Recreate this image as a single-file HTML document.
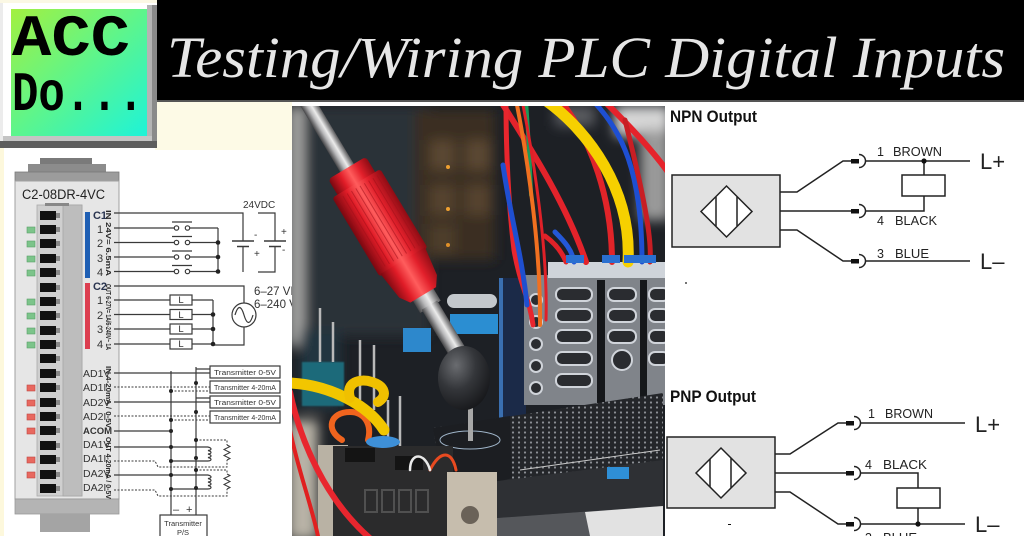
<!DOCTYPE html>
<html><head><meta charset="utf-8">
<style>
html,body{margin:0;padding:0;background:#fff;}
body{width:1024px;height:536px;overflow:hidden;position:relative;}
svg{position:absolute;left:0;top:0;display:block;}
</style></head><body>
<svg width="1024" height="536" viewBox="0 0 1024 536" xmlns="http://www.w3.org/2000/svg" font-family="'Liberation Sans', sans-serif">
<defs>
 <linearGradient id="scr" x1="0" y1="0" x2="1" y2="1">
  <stop offset="0" stop-color="#a2f040"/>
  <stop offset="0.5" stop-color="#5df58c"/>
  <stop offset="1" stop-color="#1ef3d8"/>
 </linearGradient>
 <linearGradient id="redg" x1="0" y1="0" x2="0" y2="1">
  <stop offset="0" stop-color="#8e0c14"/>
  <stop offset="0.28" stop-color="#e2202b"/>
  <stop offset="0.5" stop-color="#ff5d5d"/>
  <stop offset="0.72" stop-color="#e01c27"/>
  <stop offset="1" stop-color="#7a0810"/>
 </linearGradient>
 <linearGradient id="silv" x1="0" y1="0" x2="0" y2="1">
  <stop offset="0" stop-color="#5a5a5c"/>
  <stop offset="0.4" stop-color="#ececec"/>
  <stop offset="0.65" stop-color="#b8b8ba"/>
  <stop offset="1" stop-color="#444446"/>
 </linearGradient>
 <radialGradient id="ball" cx="0.35" cy="0.3" r="0.75">
  <stop offset="0" stop-color="#6a6c70"/>
  <stop offset="0.5" stop-color="#34363a"/>
  <stop offset="1" stop-color="#17181b"/>
 </radialGradient>
 <pattern id="pd" width="6" height="5" patternUnits="userSpaceOnUse">
  <rect width="6" height="5" fill="#24262a"/>
  <circle cx="3" cy="2.5" r="1.1" fill="#8c9096"/>
 </pattern>
 <clipPath id="ph"><rect x="292" y="106" width="373" height="430"/></clipPath>
 <filter id="b6" x="-20%" y="-20%" width="140%" height="140%"><feGaussianBlur stdDeviation="6"/></filter>
 <filter id="b1"><feGaussianBlur stdDeviation="0.8"/></filter>
</defs>

<!-- backgrounds -->
<rect x="0" y="0" width="1024" height="536" fill="#ffffff"/>
<rect x="0" y="148" width="4" height="388" fill="#fdf8dc"/>
<rect x="155" y="101" width="137" height="49" fill="#fdfae6"/>

<!-- LOGO -->
<rect x="0" y="0" width="157" height="148" fill="#ffffff"/>
<rect x="0" y="0" width="157" height="3" fill="#fbf8e4"/>
<rect x="0" y="3" width="3" height="140" fill="#ececec"/>
<rect x="147" y="5" width="5" height="135" fill="#b4b4b4"/>
<rect x="152" y="5" width="5" height="140" fill="#8a8a8a"/>
<rect x="3" y="136" width="149" height="5" fill="#c4c4c4"/>
<rect x="0" y="141" width="157" height="7" fill="#5e5e5e"/>
<rect x="11" y="9" width="136" height="127" fill="url(#scr)"/>
<text x="12" y="55" font-family="'Liberation Mono', monospace" font-weight="bold" font-size="58" fill="#000" textLength="118" lengthAdjust="spacingAndGlyphs">ACC</text>
<text x="12" y="110" font-family="'Liberation Mono', monospace" font-weight="bold" font-size="56" fill="#000" textLength="132" lengthAdjust="spacingAndGlyphs">Do...</text>

<!-- TITLE BANNER -->
<rect x="157" y="0" width="867" height="101" fill="#000"/>
<rect x="157" y="100" width="867" height="2" fill="#555"/>
<text x="167" y="77" font-family="'Liberation Serif', serif" font-style="italic" font-size="58" fill="#e6e6e6" textLength="838" lengthAdjust="spacingAndGlyphs">Testing/Wiring PLC Digital Inputs</text>

<!-- PLC MODULE -->
<g>
 <rect x="40" y="158" width="52" height="6" fill="#7a7a7a"/>
 <rect x="28" y="164" width="78" height="8" fill="#8c8c8c"/>
 <rect x="15" y="172" width="104" height="9" fill="#9c9c9c" stroke="#7a7a7a" stroke-width="0.8"/>
 <rect x="15" y="181" width="104" height="318" fill="#e6e6e6" stroke="#a0a0a0" stroke-width="1"/>
 <rect x="15" y="499" width="104" height="15" fill="#b4b4b4" stroke="#999" stroke-width="0.8"/>
 <rect x="40" y="514" width="50" height="18" fill="#a4a4a4"/>
 <text x="22" y="199" font-size="13.5" fill="#222" textLength="83" lengthAdjust="spacingAndGlyphs">C2-08DR-4VC</text>
 <!-- terminal column -->
 <rect x="37" y="205" width="45" height="291" fill="#cfcfcf" stroke="#aaa" stroke-width="0.8"/>
 <rect x="63" y="205" width="19" height="291" fill="#bdbdbd" stroke="#a5a5a5" stroke-width="0.8"/>
 <rect x="45" y="203" width="24" height="3" fill="#888"/>
 <g fill="#111">
  <rect x="40" y="211" width="16" height="9"/><rect x="40" y="225" width="16" height="9"/>
  <rect x="40" y="239" width="16" height="9"/><rect x="40" y="254" width="16" height="9"/>
  <rect x="40" y="268" width="16" height="9"/><rect x="40" y="283" width="16" height="9"/>
  <rect x="40" y="297" width="16" height="9"/><rect x="40" y="311" width="16" height="9"/>
  <rect x="40" y="326" width="16" height="9"/><rect x="40" y="340" width="16" height="9"/>
  <rect x="40" y="354" width="16" height="9"/><rect x="40" y="369" width="16" height="9"/>
  <rect x="40" y="383" width="16" height="9"/><rect x="40" y="398" width="16" height="9"/>
  <rect x="40" y="412" width="16" height="9"/><rect x="40" y="426" width="16" height="9"/>
  <rect x="40" y="441" width="16" height="9"/><rect x="40" y="455" width="16" height="9"/>
  <rect x="40" y="470" width="16" height="9"/><rect x="40" y="484" width="16" height="9"/>
 </g>
 <g fill="#888">
  <rect x="56" y="213" width="4" height="5"/><rect x="56" y="227" width="4" height="5"/>
  <rect x="56" y="241" width="4" height="5"/><rect x="56" y="256" width="4" height="5"/>
  <rect x="56" y="270" width="4" height="5"/><rect x="56" y="285" width="4" height="5"/>
  <rect x="56" y="299" width="4" height="5"/><rect x="56" y="313" width="4" height="5"/>
  <rect x="56" y="328" width="4" height="5"/><rect x="56" y="342" width="4" height="5"/>
  <rect x="56" y="356" width="4" height="5"/><rect x="56" y="371" width="4" height="5"/>
  <rect x="56" y="385" width="4" height="5"/><rect x="56" y="400" width="4" height="5"/>
  <rect x="56" y="414" width="4" height="5"/><rect x="56" y="428" width="4" height="5"/>
  <rect x="56" y="443" width="4" height="5"/><rect x="56" y="457" width="4" height="5"/>
  <rect x="56" y="472" width="4" height="5"/><rect x="56" y="486" width="4" height="5"/>
 </g>
 <!-- LEDs -->
 <g fill="#7cc48a" stroke="#5aa06a" stroke-width="0.6">
  <rect x="27" y="227" width="8" height="6"/><rect x="27" y="241" width="8" height="6"/>
  <rect x="27" y="256" width="8" height="6"/><rect x="27" y="270" width="8" height="6"/>
  <rect x="27" y="299" width="8" height="6"/><rect x="27" y="313" width="8" height="6"/>
  <rect x="27" y="328" width="8" height="6"/><rect x="27" y="342" width="8" height="6"/>
 </g>
 <g fill="#e8685f" stroke="#c04a44" stroke-width="0.6">
  <rect x="27" y="385" width="8" height="6"/><rect x="27" y="400" width="8" height="6"/>
  <rect x="27" y="414" width="8" height="6"/><rect x="27" y="428" width="8" height="6"/>
  <rect x="27" y="457" width="8" height="6"/><rect x="27" y="472" width="8" height="6"/>
 </g>
 <rect x="85" y="212" width="5" height="66" fill="#1f5fb4"/>
 <rect x="85" y="283" width="5" height="66" fill="#dc3e50"/>
 <!-- row labels -->
 <g font-size="11" fill="#333" text-anchor="middle">
  <text x="100" y="219" font-weight="bold" fill="#2a3550">C1</text>
  <text x="100" y="233">1</text><text x="100" y="247">2</text>
  <text x="100" y="262">3</text><text x="100" y="276">4</text>
  <text x="100" y="290" font-weight="bold" fill="#2a3550">C2</text>
  <text x="100" y="304">1</text><text x="100" y="319">2</text>
  <text x="100" y="333">3</text><text x="100" y="348">4</text>
 </g>
 <g font-size="10.5" fill="#333">
  <text x="83" y="377">AD1V</text><text x="83" y="391">AD1I</text>
  <text x="83" y="406">AD2V</text><text x="83" y="420">AD2I</text>
  <text x="83" y="434" font-weight="bold" font-size="9.5">ACOM</text>
  <text x="83" y="448">DA1V</text><text x="83" y="462">DA1I</text>
  <text x="83" y="477">DA2V</text><text x="83" y="491">DA2I</text>
 </g>
 <g font-size="7.5" font-weight="bold" fill="#2a2a2a">
  <text transform="translate(106,210) rotate(90)" textLength="66" lengthAdjust="spacingAndGlyphs">IN 24V= 6.5mA</text>
  <text transform="translate(106,284) rotate(90)" textLength="66" lengthAdjust="spacingAndGlyphs">OUT 6-27V= 1A/6-240V~ 1A</text>
  <text transform="translate(106,366) rotate(90)" textLength="62" lengthAdjust="spacingAndGlyphs">IN 4-20mA / 0-5V</text>
  <text transform="translate(106,437) rotate(90)" textLength="62" lengthAdjust="spacingAndGlyphs">OUT 4-20mA / 0-5V</text>
 </g>
</g>

<!-- LEFT WIRING -->
<g stroke="#3a3a3a" stroke-width="1.2" fill="none">
 <!-- IN -->
 <path d="M114,213 H243 V241"/>
 <path d="M243,246 V272"/>
 <path d="M258,213 H275 V241 M275,246 V272 H258"/>
 <path d="M114,228 H174 M190,228 H218"/>
 <path d="M114,242.5 H174 M190,242.5 H218"/>
 <path d="M114,257 H174 M190,257 H218"/>
 <path d="M114,271.5 H174 M190,271.5 H218"/>
 <path d="M172,222 H192 M172,236.5 H192 M172,251 H192 M172,265.5 H192"/>
 <circle cx="176.5" cy="228" r="2.2"/><circle cx="187.5" cy="228" r="2.2"/>
 <circle cx="176.5" cy="242.5" r="2.2"/><circle cx="187.5" cy="242.5" r="2.2"/>
 <circle cx="176.5" cy="257" r="2.2"/><circle cx="187.5" cy="257" r="2.2"/>
 <circle cx="176.5" cy="271.5" r="2.2"/><circle cx="187.5" cy="271.5" r="2.2"/>
 <path d="M218,228 V271.5"/>
 <path d="M232,241 H254 M237,246.5 H249" stroke-width="1.5"/>
 <path d="M264,241 H286 M269,246.5 H281" stroke-width="1.5"/>
 <!-- OUT -->
 <path d="M114,286 H244 V303 M244,327 V345 H213"/>
 <circle cx="244" cy="315" r="12"/>
 <path d="M235,315 C238,305 241,305 244,315 C247,325 250,325 253,315"/>
 <path d="M114,300 H170 M192,300 H213"/>
 <path d="M114,314.5 H170 M192,314.5 H213"/>
 <path d="M114,329 H170 M192,329 H213"/>
 <path d="M114,344 H170 M192,344 H213"/>
 <rect x="170" y="295" width="22" height="10" fill="#fff"/>
 <rect x="170" y="309.5" width="22" height="10" fill="#fff"/>
 <rect x="170" y="324" width="22" height="10" fill="#fff"/>
 <rect x="170" y="339" width="22" height="10" fill="#fff"/>
 <path d="M213,300 V344"/>
 <!-- analog -->
 <path d="M114,373 H210"/>
 <path d="M114,402 H210"/>
 <path d="M114,431 H171"/>
 <path d="M171,371 V515 M196,367 V515"/>
 <path d="M196,369 H210 M196,398 H210"/>
 <path d="M114,447 H208 M208,461 H171"/>
 <path d="M114,475 H208 M208,489 H171"/>
 <path d="M208,447 c4,1 4,3 0,3.5 c4,1 4,3 0,3.5 c4,1 4,3 0,3.5 c4,1 4,3 0,3.5"/>
 <path d="M208,475 c4,1 4,3 0,3.5 c4,1 4,3 0,3.5 c4,1 4,3 0,3.5 c4,1 4,3 0,3.5"/>
 <g stroke-dasharray="2,1.5" stroke-width="1">
  <path d="M114,387 H210 M171,391 H210"/>
  <path d="M114,416 H210 M171,420 H210"/>
  <path d="M114,461 H155 L158,467 H227 V460"/>
  <path d="M196,440 H227 V445"/>
  <path d="M114,490 H155 L158,496 H227 V489"/>
  <path d="M196,470 H227 V474"/>
 </g>
 <path d="M227,445 l3,1.5 l-6,3 l6,3 l-6,3 l6,3 l-3,1.5" stroke-width="1"/>
 <path d="M227,474 l3,1.5 l-6,3 l6,3 l-6,3 l6,3 l-3,1.5" stroke-width="1"/>
 <rect x="210" y="366" width="70" height="12" fill="#fff"/>
 <rect x="210" y="381" width="70" height="12" fill="#fff"/>
 <rect x="210" y="396" width="70" height="12" fill="#fff"/>
 <rect x="210" y="411" width="70" height="12" fill="#fff"/>
 <rect x="160" y="515" width="47" height="30" fill="#fff"/>
</g>
<g fill="#222">
 <circle cx="218" cy="242.5" r="2.3"/><circle cx="218" cy="257" r="2.3"/><circle cx="218" cy="271.5" r="2.3"/>
 <circle cx="213" cy="314.5" r="2.3"/><circle cx="213" cy="329" r="2.3"/><circle cx="213" cy="344" r="2.3"/>
 <circle cx="171" cy="391" r="2"/><circle cx="196" cy="383" r="2"/>
 <circle cx="171" cy="420" r="2"/><circle cx="196" cy="412" r="2"/>
 <circle cx="171" cy="431" r="2"/><circle cx="171" cy="447" r="2"/><circle cx="196" cy="440" r="2"/>
 <circle cx="171" cy="461" r="2"/><circle cx="196" cy="458" r="2"/>
 <circle cx="171" cy="475" r="2"/><circle cx="196" cy="470" r="2"/>
 <circle cx="171" cy="489" r="2"/><circle cx="196" cy="488" r="2"/>
</g>
<g font-size="9" fill="#333" text-anchor="middle">
 <text x="181" y="303" font-size="9.5">L</text><text x="181" y="318" font-size="9.5">L</text>
 <text x="181" y="332" font-size="9.5">L</text><text x="181" y="347" font-size="9.5">L</text>
</g>
<g font-size="7.5" fill="#333">
 <text x="214" y="375" textLength="62" lengthAdjust="spacingAndGlyphs">Transmitter 0-5V</text>
 <text x="214" y="390" textLength="62" lengthAdjust="spacingAndGlyphs">Transmitter 4-20mA</text>
 <text x="214" y="405" textLength="62" lengthAdjust="spacingAndGlyphs">Transmitter 0-5V</text>
 <text x="214" y="420" textLength="62" lengthAdjust="spacingAndGlyphs">Transmitter 4-20mA</text>
 <text x="183" y="526" text-anchor="middle" font-size="7.5">Transmitter</text>
 <text x="183" y="535" text-anchor="middle" font-size="7.5">P/S</text>
</g>
<g font-size="11" fill="#333">
 <text x="173" y="513">–</text><text x="186" y="513">+</text>
 <text x="243" y="208" font-size="10">24VDC</text>
 <text x="254" y="238" font-size="10">-</text><text x="254" y="257" font-size="10">+</text>
 <text x="281" y="235" font-size="10">+</text><text x="282" y="253" font-size="10">-</text>
 <text x="254" y="295" font-size="11.5">6–27 VDC</text>
 <text x="254" y="308" font-size="11.5">6–240 VAC</text>
</g>

<!-- PHOTO -->
<g clip-path="url(#ph)">
 <rect x="292" y="106" width="373" height="430" fill="#1d2025"/>
 <g filter="url(#b6)">
  <rect x="300" y="106" width="130" height="230" fill="#2c3037"/>
  <rect x="288" y="106" width="16" height="240" fill="#a6a6a4"/>
  <rect x="415" y="110" width="80" height="150" fill="#3a2e24"/>
  <rect x="430" y="140" width="25" height="30" fill="#5a4631"/>
  <rect x="465" y="140" width="25" height="30" fill="#5a4631"/>
  <rect x="430" y="185" width="25" height="30" fill="#54422f"/>
  <rect x="465" y="185" width="25" height="30" fill="#54422f"/>
  <rect x="430" y="225" width="25" height="28" fill="#4d3c2b"/>
  <rect x="615" y="106" width="55" height="30" fill="#d6d6d6"/>
  <rect x="640" y="130" width="30" height="90" fill="#9a9a9a"/>
  <rect x="555" y="106" width="40" height="20" fill="#5a5c60"/>
  <rect x="288" y="420" width="30" height="120" fill="#b8b2a6"/>
  <rect x="300" y="330" width="40" height="80" fill="#22363f"/>
 </g>
 <circle cx="448" cy="167" r="2" fill="#f0a030"/>
 <circle cx="448" cy="209" r="2" fill="#f0a030"/>
 <circle cx="448" cy="245" r="2" fill="#e09028"/>
 <!-- teal component -->
 <rect x="302" y="362" width="42" height="44" fill="#1f6b7a" filter="url(#b1)"/>
 <!-- pins -->
 <g stroke="#b9b9b9" stroke-width="2.5">
  <line x1="320" y1="308" x2="320" y2="362"/><line x1="333" y1="322" x2="333" y2="362"/>
  <line x1="360" y1="340" x2="360" y2="400"/><line x1="374" y1="345" x2="374" y2="410"/>
  <line x1="388" y1="400" x2="388" y2="448"/><line x1="400" y1="396" x2="400" y2="448"/>
 </g>
 <!-- blue panel -->
 <rect x="499" y="278" width="27" height="140" fill="#1b2a48"/>
 <rect x="499" y="278" width="4" height="140" fill="#3a6fb0"/>
 <rect x="447" y="294" width="50" height="14" rx="7" fill="#c4c8cc"/>
 <rect x="450" y="314" width="48" height="20" fill="#2b8ed2"/>
 <rect x="403" y="328" width="28" height="24" fill="#2d88cc"/>
 <!-- silver terminal blocks -->
 <rect x="524" y="275" width="141" height="130" fill="#80848a"/>
 <rect x="548" y="262" width="117" height="16" fill="#cfd4da"/>
 <rect x="597" y="280" width="8" height="125" fill="#15171a"/>
 <rect x="640" y="280" width="7" height="125" fill="#15171a"/>
 <g fill="#2a2c30" stroke="#d0d4da" stroke-width="2">
  <rect x="556" y="288" width="36" height="13" rx="6"/>
  <rect x="556" y="309" width="36" height="13" rx="6"/>
  <rect x="556" y="330" width="36" height="13" rx="6"/>
  <rect x="556" y="352" width="36" height="13" rx="6"/>
  <rect x="556" y="374" width="36" height="13" rx="6"/>
  <rect x="608" y="288" width="28" height="13" rx="6"/>
  <rect x="608" y="309" width="28" height="13" rx="6"/>
  <rect x="608" y="330" width="28" height="13" rx="6"/>
  <circle cx="622" cy="360" r="10"/>
  <rect x="649" y="288" width="20" height="13" rx="6"/>
  <rect x="649" y="309" width="20" height="13" rx="6"/>
  <rect x="649" y="330" width="20" height="13" rx="6"/>
  <rect x="649" y="352" width="20" height="13" rx="6"/>
  <circle cx="536" cy="300" r="6"/><circle cx="536" cy="322" r="6"/>
  <circle cx="536" cy="344" r="6"/><circle cx="536" cy="366" r="6"/>
  <circle cx="536" cy="388" r="6"/>
 </g>
 <!-- PCB -->
 <polygon points="433,428 663,393 663,465 497,482 440,472" fill="url(#pd)"/>
 <polygon points="433,428 510,416 512,478 497,482 440,472" fill="#1c1e22"/>
 <ellipse cx="470" cy="440" rx="30" ry="9" fill="none" stroke="#9fb4c8" stroke-width="1"/>
 <path d="M520,470 L660,450" stroke="#c8c8c8" stroke-width="1" fill="none"/>
 <polygon points="490,482 663,460 663,506 497,518" fill="#2e3034"/>
 <polygon points="497,518 663,506 663,536 497,536" fill="#55575b"/>
 <polygon points="585,512 663,506 663,536 590,536" fill="#e2e2e2"/>
 <rect x="607" y="467" width="22" height="12" fill="#2f8fd6"/>
 <!-- bottom-left connectors -->
 <rect x="318" y="445" width="30" height="91" fill="#b9b2a4"/>
 <rect x="333" y="446" width="120" height="90" fill="#2b2b2c"/>
 <rect x="345" y="448" width="30" height="14" fill="#141414"/>
 <rect x="395" y="456" width="28" height="14" fill="#141414"/>
 <g fill="none" stroke="#505050" stroke-width="2">
  <rect x="365" y="490" width="12" height="22"/><rect x="382" y="490" width="12" height="22"/>
  <rect x="399" y="490" width="12" height="22"/><rect x="416" y="490" width="12" height="22"/>
 </g>
 <rect x="447" y="472" width="50" height="64" fill="#c6bdad"/>
 <circle cx="470" cy="515" r="9" fill="#6a6258"/>
 <!-- wires (top) -->
 <g fill="none" stroke-linecap="round">
  <path d="M500,100 C525,140 565,200 586,262" stroke="#e3232b" stroke-width="6"/>
  <path d="M506,100 C506,150 508,200 514,250 C520,285 530,300 533,325" stroke="#e8262e" stroke-width="5"/>
  <path d="M503,165 C510,215 522,255 527,305" stroke="#1f4fd0" stroke-width="5"/>
  <path d="M526,100 C528,130 530,160 531,195" stroke="#1a9a5a" stroke-width="4"/>
  <path d="M516,100 C528,160 541,250 540,325" stroke="#f07020" stroke-width="4"/>
  <path d="M522,100 C534,160 548,250 546,320" stroke="#e02028" stroke-width="3"/>
  <path d="M560,100 C592,140 612,200 612,262" stroke="#e12429" stroke-width="6"/>
  <path d="M592,100 C622,130 642,172 642,262" stroke="#1e4fd2" stroke-width="5"/>
  <path d="M545,100 C588,130 632,190 628,262" stroke="#f6d000" stroke-width="11"/>
  <path d="M603,100 C632,128 652,150 668,172" stroke="#e5232b" stroke-width="6"/>
  <path d="M625,120 C645,200 652,240 650,262" stroke="#c81e24" stroke-width="5"/>
  <path d="M555,232 C565,242 572,250 574,262" stroke="#2458d8" stroke-width="5"/>
  <path d="M545,236 C556,244 562,252 566,262" stroke="#e02228" stroke-width="5"/>
 </g>
 <g fill="#2a6fd0">
  <rect x="566" y="255" width="18" height="8"/><rect x="602" y="255" width="18" height="8"/>
  <rect x="624" y="255" width="20" height="8"/><rect x="640" y="255" width="16" height="8"/>
 </g>
 <!-- wires (bottom-left) -->
 <g fill="none" stroke-linecap="round">
  <path d="M290,392 C300,440 325,500 372,540" stroke="#e8262e" stroke-width="6"/>
  <path d="M290,430 C298,470 310,500 318,536" stroke="#e02020" stroke-width="4"/>
  <path d="M342,440 C325,430 330,412 350,412 C365,412 372,425 368,440" stroke="#f0641e" stroke-width="6"/>
  <path d="M290,383 C330,385 368,405 384,430" stroke="#f2c600" stroke-width="11"/>
  <path d="M350,398 C345,382 360,378 372,382 C385,386 388,396 378,402" stroke="#f0c000" stroke-width="10"/>
  <path d="M430,470 C440,450 452,450 456,470" stroke="#e84a20" stroke-width="3"/>
  <path d="M410,470 C410,452 425,452 430,470" stroke="#e8e8e8" stroke-width="2.5"/>
 </g>
 <ellipse cx="383" cy="442" rx="17" ry="6" fill="#3e90d8"/>
 <!-- probe -->
 <g transform="translate(347,168) rotate(59)">
  <rect x="-85" y="-8" width="92" height="16" fill="url(#silv)"/>
  <rect x="140" y="-12" width="22" height="24" fill="url(#silv)"/>
  <rect x="160" y="-9" width="58" height="18" fill="url(#silv)"/>
  <rect x="0" y="-22" width="22" height="44" rx="4" fill="url(#redg)"/>
  <rect x="18" y="-28" width="92" height="56" rx="3" fill="url(#redg)"/>
  <path d="M108,-26 L138,-22 L148,-15 L148,15 L138,22 L108,26 Z" fill="url(#redg)"/>
  <g stroke="#a0101a" stroke-width="1" opacity="0.55">
   <line x1="22" y1="-22" x2="104" y2="-22"/><line x1="22" y1="-17" x2="104" y2="-17"/>
   <line x1="22" y1="-12" x2="104" y2="-12"/><line x1="22" y1="-7" x2="104" y2="-7"/>
   <line x1="22" y1="-2" x2="104" y2="-2"/><line x1="22" y1="3" x2="104" y2="3"/>
   <line x1="22" y1="8" x2="104" y2="8"/><line x1="22" y1="13" x2="104" y2="13"/>
   <line x1="22" y1="18" x2="104" y2="18"/><line x1="22" y1="23" x2="104" y2="23"/>
  </g>
 </g>
 <rect x="468" y="405" width="5" height="36" fill="#a8a8a8"/>
 <ellipse cx="464" cy="378" rx="26" ry="32" fill="url(#ball)"/>
</g>

<!-- RIGHT: NPN -->
<text x="670" y="122" font-size="16.5" font-weight="bold" fill="#111" textLength="87" lengthAdjust="spacingAndGlyphs">NPN Output</text>
<g stroke="#222" stroke-width="1.5" fill="none">
 <rect x="672" y="175" width="108" height="72" fill="#e2e2e2"/>
 <polygon points="701,211.5 726.5,186 752,211.5 726.5,237" fill="#fff"/>
 <path d="M716,197 V226 M737,197 V226"/>
 <path d="M780,192 H797 L843,161 H852"/>
 <path d="M780,211 H852"/>
 <path d="M780,230 H797 L843,261 H852"/>
 <path d="M859,154.5 A6.5,6.5 0 0 1 859,167.5 M859,204.5 A6.5,6.5 0 0 1 859,217.5 M859,254.5 A6.5,6.5 0 0 1 859,267.5"/>
 <path d="M866,161 H970 M866,261 H970"/>
 <path d="M924,161 V175 M924,196 V211 H866"/>
 <rect x="902" y="175" width="43" height="21"/>
</g>
<g fill="#111">
 <rect x="851" y="159" width="8" height="4.5"/><rect x="851" y="209" width="8" height="4.5"/><rect x="851" y="259" width="8" height="4.5"/>
 <circle cx="924" cy="161" r="2.6"/>
 <circle cx="686" cy="283" r="0.9"/>
</g>
<g font-size="12.5" fill="#222">
 <text x="877" y="156">1</text><text x="893" y="156" textLength="49" lengthAdjust="spacingAndGlyphs">BROWN</text>
 <text x="877" y="225">4</text><text x="895" y="225" textLength="42" lengthAdjust="spacingAndGlyphs">BLACK</text>
 <text x="877" y="258">3</text><text x="895" y="258" textLength="34" lengthAdjust="spacingAndGlyphs">BLUE</text>
</g>
<g font-size="22" fill="#222">
 <text x="980" y="169">L+</text>
 <text x="980" y="269">L–</text>
</g>

<!-- RIGHT: PNP -->
<text x="670" y="402" font-size="16.5" font-weight="bold" fill="#111" textLength="86" lengthAdjust="spacingAndGlyphs">PNP Output</text>
<g stroke="#222" stroke-width="1.5" fill="none">
 <rect x="667" y="437" width="108" height="71" fill="#e2e2e2"/>
 <polygon points="696,473 721,448 746,473 721,498" fill="#fff"/>
 <path d="M710,459 V487 M731,458 V488"/>
 <path d="M775,454 H790 L838,423 H846"/>
 <path d="M775,473 H846"/>
 <path d="M775,492 H790 L838,524 H846"/>
 <path d="M854,416.5 A6.5,6.5 0 0 1 854,429.5 M854,466.5 A6.5,6.5 0 0 1 854,479.5 M854,517.5 A6.5,6.5 0 0 1 854,530.5"/>
 <path d="M861,423 H965 M861,524 H965"/>
 <path d="M861,473 H918 V488 M918,508 V524"/>
 <rect x="897" y="488" width="43" height="20"/>
</g>
<g fill="#111">
 <rect x="846" y="421" width="8" height="4.5"/><rect x="846" y="471" width="8" height="4.5"/><rect x="846" y="522" width="8" height="4.5"/>
 <circle cx="918" cy="524" r="2.6"/>
 <rect x="728" y="524" width="3" height="1"/>
</g>
<g font-size="12.5" fill="#222">
 <text x="868" y="418">1</text><text x="885" y="418" textLength="48" lengthAdjust="spacingAndGlyphs">BROWN</text>
 <text x="865" y="469">4</text><text x="883" y="469" textLength="44" lengthAdjust="spacingAndGlyphs">BLACK</text>
 <text x="865" y="542">3</text><text x="883" y="542" textLength="34" lengthAdjust="spacingAndGlyphs">BLUE</text>
</g>
<g font-size="22" fill="#222">
 <text x="975" y="432">L+</text>
 <text x="975" y="532">L–</text>
</g>
</svg>
</body></html>
